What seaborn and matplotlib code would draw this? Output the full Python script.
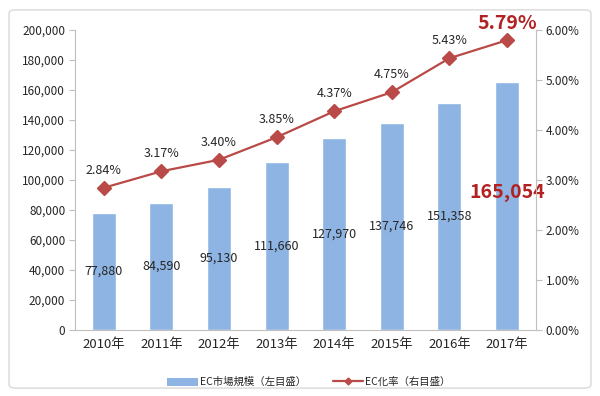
import matplotlib
matplotlib.use("Agg")
import matplotlib.pyplot as plt
import seaborn as sns
import pandas as pd
from matplotlib.patches import FancyBboxPatch
from matplotlib.lines import Line2D
from matplotlib.patches import Patch

years = ["2010年", "2011年", "2012年", "2013年", "2014年", "2015年", "2016年", "2017年"]
market = [77880, 84590, 95130, 111660, 127970, 137746, 151358, 165054]
ec_rate = [2.84, 3.17, 3.40, 3.85, 4.37, 4.75, 5.43, 5.79]

sns.set_style("white")
plt.rcParams['font.family'] = ['Noto Sans CJK JP', 'DejaVu Sans']

bar_color = "#8DB4E2"
line_color = "#B94A48"
dark_red = "#B22222"

df = pd.DataFrame({"year": years, "market": market})

fig = plt.figure(figsize=(6, 3.96), dpi=100)
fig.patches.append(FancyBboxPatch((0.015, 0.02), 0.97, 0.955, boxstyle="round,pad=0,rounding_size=0.01",
                                  transform=fig.transFigure, fill=False, edgecolor="#D9D9D9", lw=1))
ax = fig.add_axes([0.125, 0.167, 0.768, 0.758])

sns.barplot(data=df, x="year", y="market", color=bar_color, width=0.42, ax=ax, saturation=1)
ax.set_ylim(0, 200000)
ax.set_xlim(-0.5, 7.5)
ax.set_yticks(range(0, 200001, 20000))
ax.set_yticklabels([f"{v:,}" for v in range(0, 200001, 20000)], fontsize=8.5)
ax.set_xlabel("")
ax.set_ylabel("")
ax.set_xticks(range(len(years)))
ax.set_xticklabels(years, fontsize=9.5)
ax.tick_params(axis="x", length=0, pad=6)
ax.set_xticks([i + 0.5 for i in range(-1, len(years))], minor=True)
ax.tick_params(axis="x", which="minor", length=5, color="#BFBFBF", direction="out")
ax.tick_params(axis="y", length=4, color="#BFBFBF", direction="out", pad=3)
for s in ["top", "right"]:
    ax.spines[s].set_visible(False)
for s in ["left", "bottom"]:
    ax.spines[s].set_color("#BFBFBF")

for i, v in enumerate(market):
    if i == len(market) - 1:
        ax.text(i, v / 2 + 9000, f"{v:,}", ha="center", va="center", fontsize=14,
                fontweight="bold", color=dark_red)
    else:
        ax.text(i, v / 2, f"{v:,}", ha="center", va="center", fontsize=9, color="#262626")

ax2 = ax.twinx()
ax2.plot(range(len(years)), ec_rate, color=line_color, marker="D", markersize=7, lw=1.6)
ax2.set_ylim(0, 6)
ax2.set_yticks([0, 1, 2, 3, 4, 5, 6])
ax2.set_yticklabels([f"{v:.2f}%" for v in range(7)], fontsize=8.5)
ax2.tick_params(axis="y", length=4, color="#BFBFBF", direction="out", pad=3)
for s in ["top", "left", "bottom"]:
    ax2.spines[s].set_visible(False)
ax2.spines["right"].set_color("#BFBFBF")

for i, r in enumerate(ec_rate):
    if i == len(ec_rate) - 1:
        ax2.text(i, r + 0.15, f"{r:.2f}%", ha="center", va="bottom", fontsize=14,
                 fontweight="bold", color=dark_red)
    else:
        ax2.text(i, r + 0.22, f"{r:.2f}%", ha="center", va="bottom", fontsize=9, color="#262626")

handles = [Patch(facecolor=bar_color, edgecolor="none"),
           Line2D([0], [0], color=line_color, marker="D", markersize=3.5, lw=1.6)]
fig.legend(handles, ["EC市場規模（左目盛）", "EC化率（右目盛）"], loc="center",
           bbox_to_anchor=(0.515, 0.035), ncol=2, frameon=False, fontsize=7.5,
           handlelength=2.9, handleheight=0.8, columnspacing=2.6, handletextpad=0.2)

fig.savefig("out.png", dpi=100)
